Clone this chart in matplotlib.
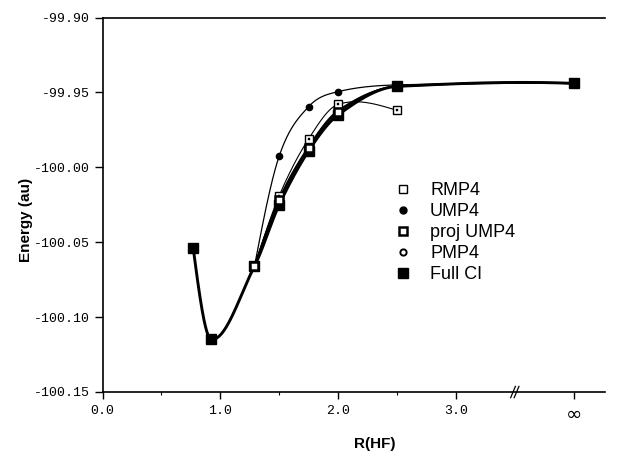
import numpy as np
import matplotlib
matplotlib.use("Agg")
import matplotlib.pyplot as plt
from matplotlib.lines import Line2D

plt.rcParams['font.family'] = ['Liberation Sans', 'DejaVu Sans']

# ---- data (infinity drawn at position 4.0) ----
INF_POS = 4.0
r_full = [0.77, 0.92, 1.29, 1.5, 1.75, 2.0, 2.5, INF_POS]
e_full = [-100.054, -100.1146, -100.066, -100.025, -99.989, -99.965, -99.946, -99.944]

r_ump = [1.29, 1.5, 1.75, 2.0, 2.5, INF_POS]
e_ump4 = [-100.066, -99.9925, -99.9595, -99.9495, -99.945, -99.944]
e_proj = [-100.066, -100.022, -99.987, -99.963, -99.946, -99.944]
e_pmp4 = [-100.066, -100.021, -99.986, -99.962, -99.946, -99.944]

r_rmp = [1.29, 1.5, 1.75, 2.0, 2.5]
e_rmp4 = [-100.066, -100.019, -99.981, -99.958, -99.962]

xticks = [0.0, 1.0, 2.0, 3.0, INF_POS]
xticklabels = ["0.0", "1.0", "2.0", "3.0", "\u221e"]
yticks = [-99.90, -99.95, -100.00, -100.05, -100.10, -100.15]
yticklabels = ["-99.90", "-99.95", "-100.00", "-100.05", "-100.10", "-100.15"]


def smooth_curve(x, y, n=60):
    """Cubic Hermite curve through the points (Catmull-Rom slopes, overshoot-limited)."""
    x = np.asarray(x, float); y = np.asarray(y, float)
    k = len(x)
    h = np.diff(x)
    d = np.diff(y) / h
    m = np.zeros(k)
    for i in range(1, k - 1):
        m[i] = (y[i + 1] - y[i - 1]) / (x[i + 1] - x[i - 1])
    m[0] = (3 * d[0] - m[1]) / 2
    m[-1] = (3 * d[-1] - m[-2]) / 2
    for i in range(k - 1):
        if d[i] == 0:
            continue
        a = m[i] / d[i]; b = m[i + 1] / d[i]
        if a > 3 and (i > 0 and np.sign(d[i - 1]) == np.sign(d[i]) or i == 0):
            m[i] = 3 * d[i]
        if b > 3 and (i + 1 < k - 1 and np.sign(d[i + 1]) == np.sign(d[i]) or i + 1 == k - 1):
            m[i + 1] = 3 * d[i]
    xs_all, ys_all = [], []
    for i in range(k - 1):
        t = np.linspace(0, 1, n)
        h00 = 2 * t**3 - 3 * t**2 + 1
        h10 = t**3 - 2 * t**2 + t
        h01 = -2 * t**3 + 3 * t**2
        h11 = t**3 - t**2
        xs_all.append(x[i] + t * h[i])
        ys_all.append(h00 * y[i] + h10 * h[i] * m[i] + h01 * y[i + 1] + h11 * h[i] * m[i + 1])
    return np.concatenate(xs_all), np.concatenate(ys_all)


fig = plt.figure(figsize=(6.25, 4.58), dpi=100)
W, H = 625, 458
x0, x1, ytop, ybot = 102.5, 605, 17.5, 392
ax = fig.add_axes([x0 / W, 1 - ybot / H, (x1 - x0) / W, (ybot - ytop) / H])

# curves
xs, ys = smooth_curve(r_rmp, e_rmp4)
ax.plot(xs, ys, color='black', lw=0.8, zorder=2)
xs, ys = smooth_curve(r_ump, e_ump4)
ax.plot(xs, ys, color='black', lw=0.9, zorder=2)
xs, ys = smooth_curve(r_ump, e_pmp4)
ax.plot(xs, ys, color='black', lw=1.0, zorder=2)
xs, ys = smooth_curve(r_ump, e_proj)
ax.plot(xs, ys, color='black', lw=1.4, zorder=2)
xs, ys = smooth_curve(r_full, e_full)
ax.plot(xs, ys, color='black', lw=2.1, zorder=3)

# markers
ax.plot(r_ump, e_pmp4, ls='none', marker='o', ms=4.5, mfc='white', mec='black', mew=1.4, zorder=4)
ax.plot(r_ump, e_ump4, ls='none', marker='o', ms=4.5, mfc='black', mec='black', zorder=5)
ax.plot(r_rmp, e_rmp4, ls='none', marker='s', ms=5.5, mfc='white', mec='black', mew=1.0, zorder=5)
ax.plot(r_rmp, e_rmp4, ls='none', marker='s', ms=1.5, mfc='black', mec='black', mew=0.3, zorder=6)
ax.plot(r_full, e_full, ls='none', marker='s', ms=6.5, mfc='black', mec='black', zorder=5)
ax.plot(r_ump, e_proj, ls='none', marker='s', ms=5.5, mfc='white', mec='black', mew=1.8,
        markevery=slice(0, 4), zorder=6)

ax.set_xlim(0, (x1 - x0) / 117.8)
ax.set_ylim(-100.15, -99.90)
ax.set_xticks(xticks)
ax.set_xticklabels(xticklabels, fontsize=9.5, family=['Liberation Mono', 'DejaVu Sans'])
ax.get_xticklabels()[-1].set_fontsize(14)
ax.get_xticklabels()[-1].set_family(['DejaVu Sans'])
ax.set_xticks([0.5, 1.5, 2.5], minor=True)
ax.set_yticks(yticks)
ax.set_yticklabels(yticklabels, fontsize=9.5, family=['Liberation Mono', 'DejaVu Sans'])
ax.tick_params(axis='y', which='major', direction='out', length=6, width=1, pad=3)
ax.tick_params(axis='x', which='major', direction='out', length=5, width=1, pad=4)
ax.tick_params(axis='x', which='minor', direction='out', length=2, width=0.8)
for s in ['left', 'bottom', 'top']:
    ax.spines[s].set_linewidth(1.2)
ax.spines['right'].set_visible(False)

# axis break mark at 3.5
trans = ax.get_xaxis_transform()
for dx in (-0.015, 0.015):
    ax.plot([3.5 + dx - 0.02, 3.5 + dx + 0.02], [-0.015, 0.015], transform=trans,
            color='black', lw=0.9, clip_on=False, zorder=7)

fig.text(375 / W, 1 - 444 / H, "R(HF)", ha='center', va='center', fontsize=11, fontweight='bold')
fig.text(26 / W, 1 - 220 / H, "Energy (au)", ha='center', va='center', rotation=90,
         fontsize=11, fontweight='bold')

handles = [
    Line2D([], [], ls='none', marker='s', ms=5.5, mfc='white', mec='black', mew=1.0),
    Line2D([], [], ls='none', marker='o', ms=5, mfc='black', mec='black'),
    Line2D([], [], ls='none', marker='s', ms=5.5, mfc='white', mec='black', mew=1.8),
    Line2D([], [], ls='none', marker='o', ms=4.5, mfc='white', mec='black', mew=1.4),
    Line2D([], [], ls='none', marker='s', ms=6.5, mfc='black', mec='black'),
]
labels = ["RMP4", "UMP4", "proj UMP4", "PMP4", "Full CI"]
leg = fig.legend(handles, labels, loc='upper left', bbox_to_anchor=(394 / W, 1 - 182 / H),
                 frameon=False, fontsize=13, handlelength=1.0, handletextpad=1.0,
                 labelspacing=0.22, borderpad=0, borderaxespad=0)

fig.savefig("out.png", dpi=100)
